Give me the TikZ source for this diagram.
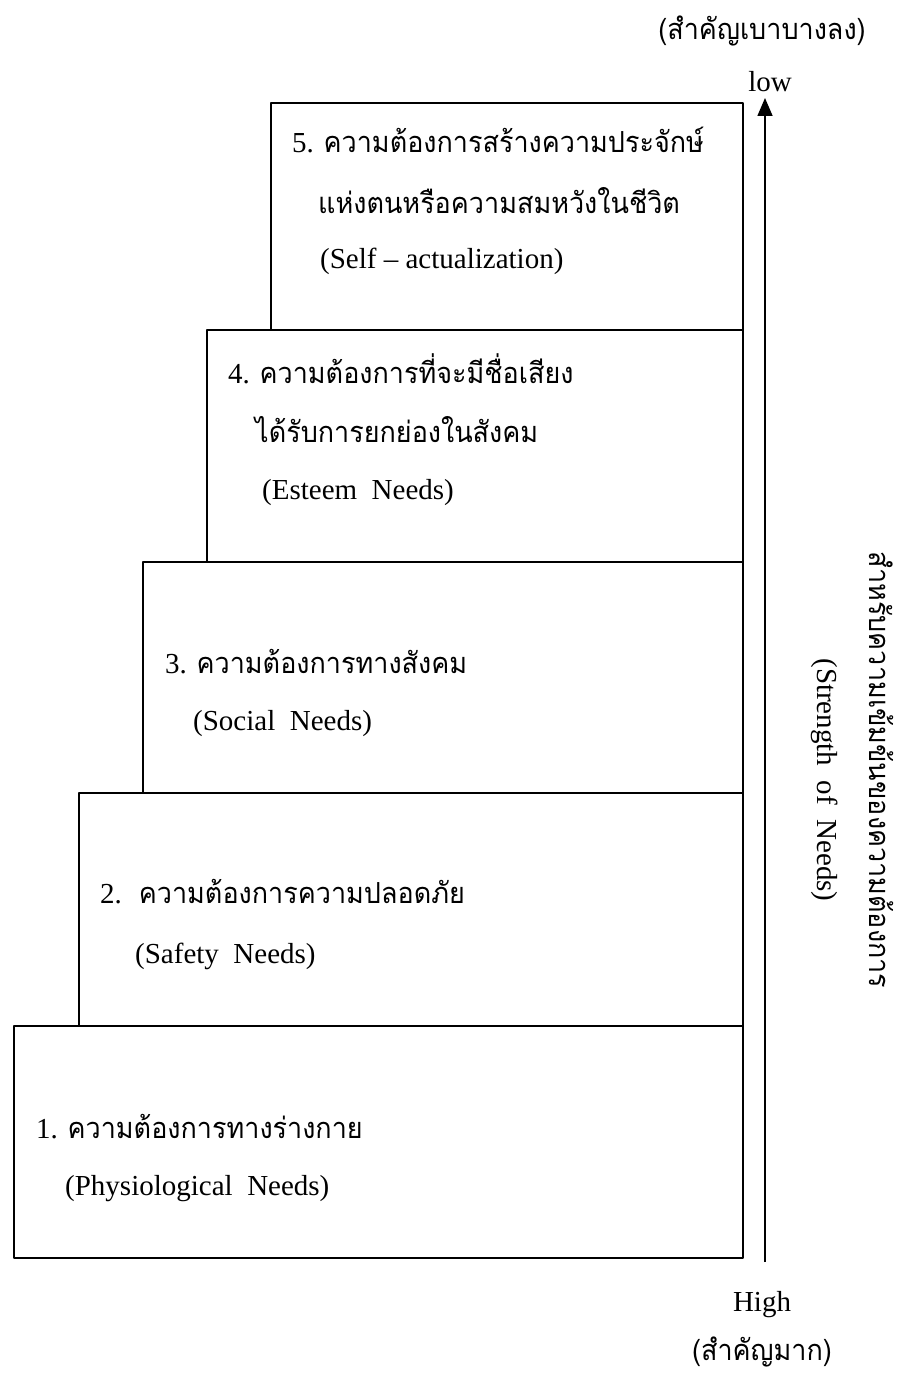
\documentclass[tikz,border=0pt]{standalone}
\usepackage{fontspec}
\setmainfont{Liberation Serif}
\newfontfamily\thaifont[Script=Thai, FakeStretch=0.93]{Loma}
\usetikzlibrary{arrows.meta}

\begin{document}
\begin{tikzpicture}[
    x=1pt,
    y=-1pt,
    >=Stealth,
    line join=round,
    every node/.style={font=\fontsize{29}{34}\selectfont, inner sep=0pt},
    escalon/.style={draw, line width=1.6pt, outer sep=0pt, anchor=north west},
    linea/.style={anchor=base west},
    rotulo/.style={anchor=base},
    vertical/.style={rotate=-90, anchor=center},
    eje/.style={-{Triangle[length=18pt,width=15pt]}, line width=1.6pt}
]

\useasboundingbox (0,0) rectangle (920,1375);

% escalones
\node[escalon, minimum width=729pt, minimum height=232pt] (n1) at (14,1026) {};
\node[escalon, minimum width=664pt, minimum height=233pt] (n2) at (79,793) {};
\node[escalon, minimum width=600pt, minimum height=231pt] (n3) at (143,562) {};
\node[escalon, minimum width=536pt, minimum height=232pt] (n4) at (207,330) {};
\node[escalon, minimum width=472pt, minimum height=227pt] (n5) at (271,103) {};

% textos
\node[linea] (t5a) at (292,153) {5. {\thaifont ความต้องการสร้างความประจักษ์}};
\node[linea] (t5b) at (318,213) {\thaifont แห่งตนหรือความสมหวังในชีวิต};
\node[linea] (t5c) at (320,268) {(Self -- actualization)};

\node[linea] (t4a) at (228,383) {4. {\thaifont ความต้องการที่จะมีชื่อเสียง}};
\node[linea] (t4b) at (255,442) {\thaifont ได้รับการยกย่องในสังคม};
\node[linea] (t4c) at (262,499) {(Esteem~ Needs)};

\node[linea] (t3a) at (165,673) {3. {\thaifont ความต้องการทางสังคม}};
\node[linea] (t3b) at (193,730) {(Social~ Needs)};

\node[linea] (t2a) at (100,903) {2.~ {\thaifont ความต้องการความปลอดภัย}};
\node[linea] (t2b) at (135,963) {(Safety~ Needs)};

\node[linea] (t1a) at (36,1138) {1. {\thaifont ความต้องการทางร่างกาย}};
\node[linea] (t1b) at (65,1195) {(Physiological~ Needs)};

% eje
\coordinate (bajo) at (765,1262);
\coordinate (alto) at (765,98);
\draw[eje] (bajo) -- (alto);

\node[rotulo] (low) at (770,92) {low};
\node[rotulo] (top) at (762,40) {\thaifont (สำคัญเบาบางลง)};
\node[rotulo] (high) at (762,1311) {High};
\node[rotulo] (bottom) at (762,1360) {\thaifont (สำคัญมาก)};

\node[vertical] (fuerza) at (825,780) {(Strength~ of~ Needs)};
\node[vertical] (orden) at (882,770) {\thaifont สำหรับความเข้มข้นของความต้องการ};

\end{tikzpicture}
\end{document}
